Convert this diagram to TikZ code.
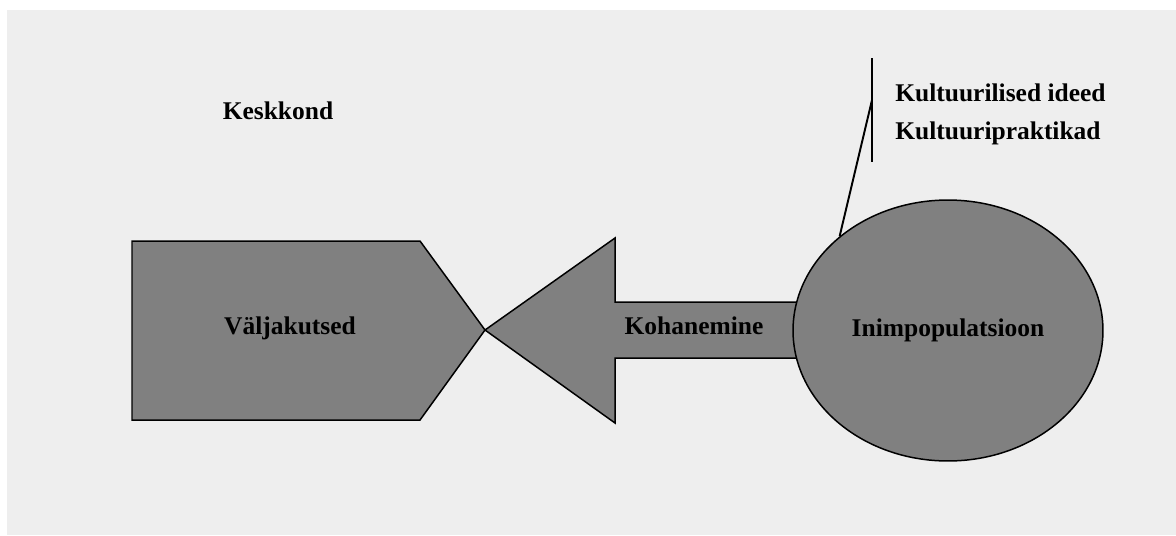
\documentclass[tikz,border=0pt]{standalone}
\usepackage{fontspec}
\setmainfont{Liberation Serif}
\usepackage{xcolor}
\usetikzlibrary{shapes.geometric}

\definecolor{bggray}{HTML}{EEEEEE}
\definecolor{shapegray}{HTML}{808080}

\begin{document}
\begin{tikzpicture}[
  x=0.02cm, y=-0.02cm,
  lbl/.style={
    font=\fontsize{14.5}{21.5}\selectfont\bfseries, inner sep=0pt
  },
  body/.style={
    draw, fill=shapegray, line width=0.85pt, line join=miter
  },
  pop/.style={
    draw, fill=shapegray, line width=0.85pt, ellipse,
    minimum width=6.2cm, minimum height=5.22cm, inner sep=0pt,
    font=\fontsize{14.5}{21.5}\selectfont\bfseries
  },
  lnk/.style={line width=1.1pt},
]

% background
\fill[white] (0,0) rectangle (1176,535);
\fill[bggray] (7,10) rectangle (1176,535);
\useasboundingbox (0,0) rectangle (1176,535);

\node[lbl] (env) at (278,111) {Keskkond};

% challenges
\draw[body] (132,241) -- (420,241) -- (485,330) -- (420,420)
  -- (132,420) -- cycle;
\node[lbl] (chal) at (290,328) {Väljakutsed};

% adaptation arrow
\draw[body] (485,330) -- (615,238) -- (615,302) -- (820,302)
  -- (820,358) -- (615,358) -- (615,423) -- cycle;
\node[lbl] (adapt) at (694,326) {Kohanemine};

% population
\node[pop] (popl) at (948,330.5) {Inimpopulatsioon};

% culture
\coordinate (brtop) at (872,58);
\coordinate (brmid) at (872,100);
\coordinate (brbot) at (872,162);
\node[lbl, align=left, anchor=west] (cult) at (895,114)
  {Kultuurilised ideed\\Kultuuripraktikad};

\draw[lnk] (brtop) -- (brbot);
\draw[lnk] (popl.139) -- (brmid);

\end{tikzpicture}
\end{document}
